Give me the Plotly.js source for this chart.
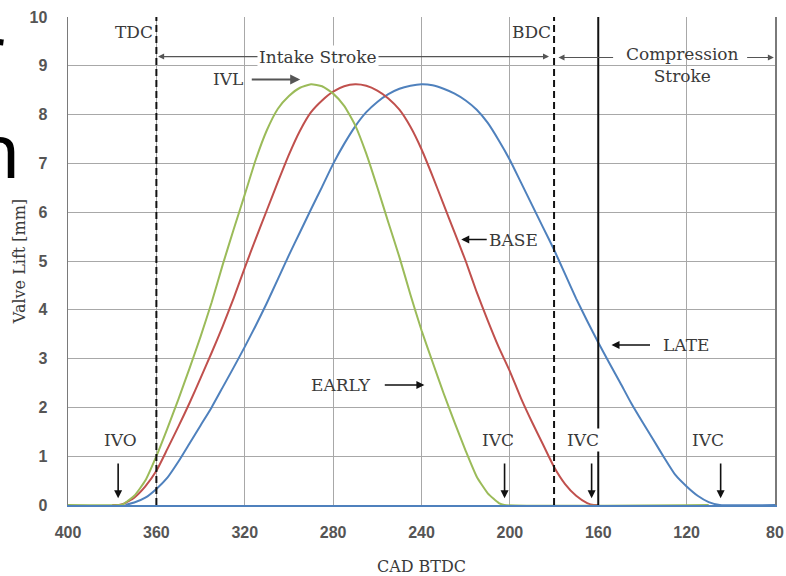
<!DOCTYPE html>
<html>
<head>
<meta charset="utf-8">
<script src="https://cdn.plot.ly/plotly-3.0.1.min.js"></script>
<style>html,body{margin:0;padding:0;background:#fff;}#chart{width:786px;height:576px;}</style>
</head>
<body>
<div id="chart"></div>
<script>
// Crank angle (CAD BTDC) and valve lift [mm]
const earlyCAD = [400, 376.5, 375, 370, 365, 360, 355, 350, 345, 340, 335, 330, 325, 320, 315, 310, 305, 300, 295, 290, 285, 280, 275, 270, 265, 260, 255, 250, 245, 240, 235, 230, 225, 220, 215, 210, 205, 202.5, 110];
const earlyLift = [0, 0, 0.02, 0.19, 0.50, 1.00, 1.57, 2.17, 2.80, 3.45, 4.15, 4.92, 5.65, 6.36, 7.08, 7.68, 8.12, 8.38, 8.55, 8.62, 8.58, 8.43, 8.18, 7.78, 7.20, 6.51, 5.79, 5.08, 4.31, 3.58, 2.93, 2.29, 1.69, 1.11, 0.58, 0.24, 0.04, 0, 0];

const baseCAD = [380, 377, 375, 370, 365, 360, 355, 350, 345, 340, 335, 330, 325, 320, 315, 310, 305, 300, 295, 290, 285, 280, 275, 270, 265, 260, 255, 250, 245, 240, 235, 230, 225, 220, 215, 210, 205, 200, 195, 190, 185, 180, 175, 170, 165, 162, 160];
const baseLift = [0, 0, 0.02, 0.15, 0.38, 0.70, 1.15, 1.61, 2.09, 2.60, 3.12, 3.66, 4.24, 4.86, 5.46, 6.04, 6.62, 7.18, 7.67, 8.05, 8.29, 8.47, 8.58, 8.62, 8.59, 8.49, 8.33, 8.10, 7.75, 7.29, 6.74, 6.16, 5.58, 5.00, 4.36, 3.78, 3.23, 2.74, 2.19, 1.70, 1.24, 0.78, 0.43, 0.19, 0.04, 0, 0];

const lateCAD = [374, 370, 365, 360, 355, 350, 345, 340, 335, 330, 325, 320, 315, 310, 305, 300, 295, 290, 285, 280, 275, 270, 265, 260, 255, 250, 245, 240, 235, 230, 225, 220, 215, 210, 205, 200, 195, 190, 185, 180, 175, 170, 165, 160, 155, 150, 145, 140, 135, 130, 125, 120, 115, 110, 105, 80];
const lateLift = [0, 0.05, 0.15, 0.33, 0.56, 0.89, 1.26, 1.63, 2.00, 2.41, 2.82, 3.24, 3.68, 4.14, 4.63, 5.12, 5.59, 6.06, 6.52, 6.99, 7.40, 7.76, 8.05, 8.26, 8.42, 8.53, 8.59, 8.62, 8.60, 8.53, 8.43, 8.29, 8.10, 7.83, 7.47, 7.07, 6.61, 6.15, 5.69, 5.23, 4.73, 4.23, 3.77, 3.33, 2.91, 2.50, 2.08, 1.70, 1.33, 0.96, 0.61, 0.38, 0.19, 0.06, 0, 0];

const xTicks = [400, 360, 320, 280, 240, 200, 160, 120, 80];
const yTicks = [0, 1, 2, 3, 4, 5, 6, 7, 8, 9, 10];

// Reference crank positions: TDC, BDC, late IVC marker
const dashedLines = [360, 180];
const solidLines = [160];

const GREEN = '#9bbb59', RED = '#c0504d', BLUE = '#4f81bd';
const SERIF = 'DejaVu Serif, Liberation Serif, serif';
const TXT = '#3a3a3a';

const traces = [
  {x: lateCAD, y: lateLift, name: 'LATE', mode: 'lines', line: {color: BLUE, width: 2, shape: 'spline', smoothing: 0.5}},
  {x: baseCAD, y: baseLift, name: 'BASE', mode: 'lines', line: {color: RED, width: 2, shape: 'spline', smoothing: 0.5}},
  {x: earlyCAD, y: earlyLift, name: 'EARLY', mode: 'lines', line: {color: GREEN, width: 2, shape: 'spline', smoothing: 0.5}}
];

const shapes = [];
dashedLines.forEach(v => shapes.push({type: 'line', xref: 'x', yref: 'y', x0: v, x1: v, y0: 0, y1: 10, line: {color: '#111', width: 2, dash: '7px,4px'}}));
solidLines.forEach(v => shapes.push({type: 'line', xref: 'x', yref: 'y', x0: v, x1: v, y0: 0, y1: 10, line: {color: '#111', width: 2}}));

function label(text, x, y, extra) {
  return Object.assign({text: text, x: x, y: y, xref: 'x', yref: 'y', showarrow: false, font: {family: SERIF, size: 17, color: TXT}}, extra || {});
}
function arrow(x, y, ax, ay, extra) {
  return Object.assign({text: '', x: x, y: y, ax: ax, ay: ay, xref: 'x', yref: 'y', axref: 'x', ayref: 'y', showarrow: true, arrowhead: 2, arrowsize: 1, arrowwidth: 1.6, arrowcolor: '#111'}, extra || {});
}

const annotations = [
  label('TDC', 370.3, 9.70),
  label('BDC', 190.0, 9.70),
  arrow(359.2, 9.19, 181.6, 9.19, {arrowside: 'end+start', startarrowhead: 2, arrowwidth: 1.2, arrowcolor: '#555'}),
  label('Intake Stroke', 286.7, 9.19, {bgcolor: '#ffffff', borderpad: 1}),
  arrow(178.0, 9.17, 152.6, 9.17, {arrowwidth: 1.2, arrowcolor: '#555'}),
  arrow(80.5, 9.17, 93.3, 9.17, {arrowwidth: 1.2, arrowcolor: '#555'}),
  label('Compression<br>Stroke', 121.8, 9.02),
  label('IVL', 327.5, 8.72),
  arrow(294.9, 8.72, 317.5, 8.72, {arrowwidth: 2, arrowcolor: '#555'}),
  label('BASE', 198.2, 5.44),
  arrow(222.0, 5.44, 209.8, 5.44),
  label('LATE', 120.4, 3.28),
  arrow(154.0, 3.28, 135.9, 3.28),
  label('EARLY', 276.3, 2.46),
  arrow(238.7, 2.46, 257.3, 2.46),
  label('IVO', 376.4, 1.33),
  arrow(377.3, 0.14, 377.3, 0.88),
  label('IVC', 205.6, 1.33),
  arrow(202.4, 0.14, 202.4, 0.88),
  label('IVC', 166.7, 1.33, {bgcolor: '#ffffff'}),
  arrow(163.0, 0.14, 163.0, 0.88),
  label('IVC', 110.5, 1.33),
  arrow(104.6, 0.14, 104.6, 0.88),
  // fragments of slide text cut off at the left edge (as in the reference)
  {text: 'r<br>n', xref: 'paper', yref: 'paper', x: -0.136, y: 1.039, xanchor: 'left', yanchor: 'top', align: 'left', showarrow: false, font: {family: 'Noto Sans', size: 75, color: '#000'}}
];

const layout = {
  width: 786, height: 576,
  margin: {l: 68, r: 11, t: 17, b: 71},
  paper_bgcolor: '#ffffff', plot_bgcolor: '#ffffff',
  showlegend: false,
  xaxis: {
    range: [400, 80], tickvals: xTicks, ticktext: xTicks.map(String),
    showgrid: true, gridcolor: '#a8a8a8', gridwidth: 1,
    showline: true, linecolor: BLUE, linewidth: 2, zeroline: false,
    ticks: '', ticklabelstandoff: 12,
    tickfont: {family: 'Liberation Sans, Arial, sans-serif', size: 16, color: '#555', weight: 'bold'},
    title: {text: 'CAD BTDC', standoff: 21, font: {family: SERIF, size: 16, color: TXT}}
  },
  yaxis: {
    range: [0, 10], tickvals: yTicks, ticktext: yTicks.map(String),
    showgrid: true, gridcolor: '#a8a8a8', gridwidth: 1,
    showline: true, linecolor: '#7a7a7a', linewidth: 1.5, mirror: true, zeroline: false,
    ticks: '', ticklabelstandoff: 16,
    tickfont: {family: 'Liberation Sans, Arial, sans-serif', size: 16, color: '#555', weight: 'bold'},
    title: {text: 'Valve Lift [mm]', standoff: 0, font: {family: SERIF, size: 16, color: TXT}}
  },
  shapes: shapes,
  annotations: annotations
};

Plotly.newPlot('chart', traces, layout, {staticPlot: true, displayModeBar: false});
</script>
</body>
</html>
